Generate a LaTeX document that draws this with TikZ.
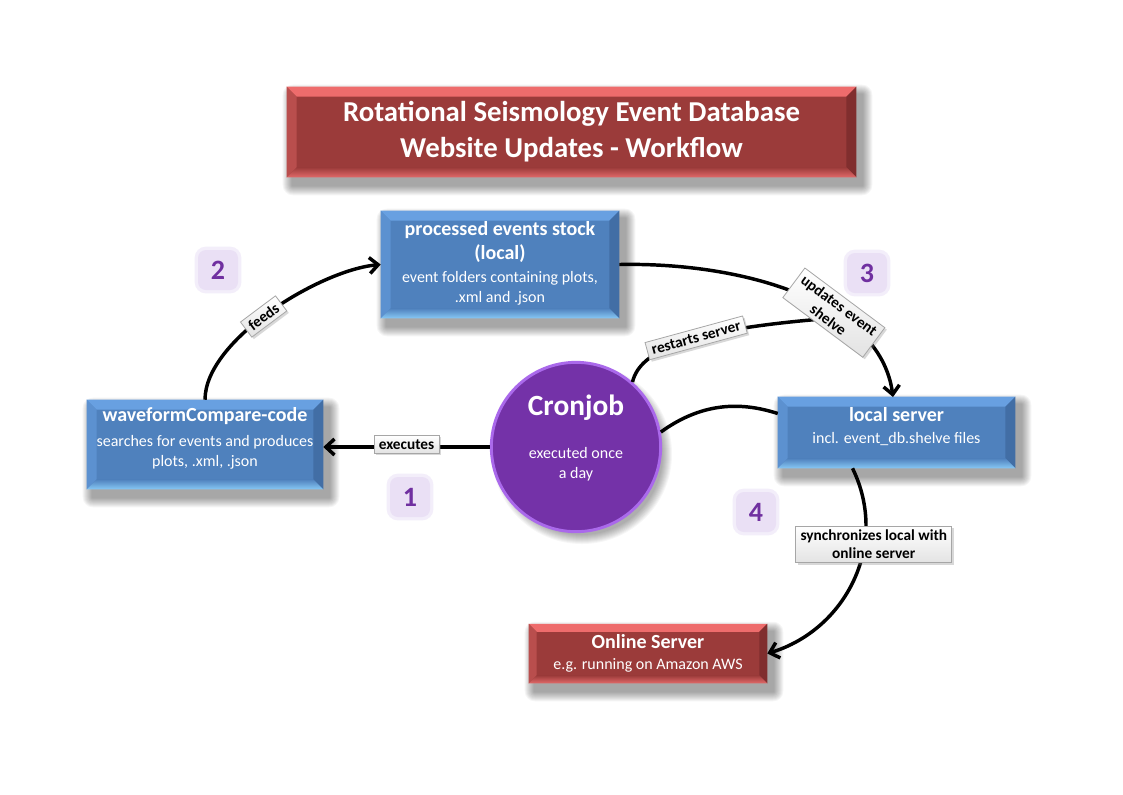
\documentclass[tikz,border=0pt]{standalone}
\usepackage{fontspec}
\setmainfont{Carlito}
\usetikzlibrary{arrows.meta,shadows,calc,fit,backgrounds}
\definecolor{blueB}{RGB}{79,129,189}
\definecolor{blueT}{RGB}{104,160,225}
\definecolor{blueLf}{RGB}{92,145,208}
\definecolor{blueR}{RGB}{66,110,165}
\definecolor{blueL}{RGB}{135,200,245}
\definecolor{redB}{RGB}{155,59,58}
\definecolor{redT}{RGB}{238,108,108}
\definecolor{redLf}{RGB}{185,78,77}
\definecolor{redR}{RGB}{128,46,46}
\definecolor{redL}{RGB}{225,105,105}
\definecolor{purp}{RGB}{116,50,168}
\definecolor{purpEdge}{RGB}{170,105,235}
\definecolor{numc}{RGB}{112,48,160}
\definecolor{badge}{RGB}{234,224,245}
\newcommand\bevelbox[6]{%
\path[#3] (#1.north west) -- (#1.north east) -- ($(#1.north east)+(-#2,#2)$) -- ($(#1.north west)+(#2,#2)$) -- cycle;
\path[#4] (#1.north west) -- ($(#1.north west)+(#2,#2)$) -- ($(#1.south west)+(#2,-#2)$) -- (#1.south west) -- cycle;
\path[#5] (#1.north east) -- ($(#1.north east)+(-#2,#2)$) -- ($(#1.south east)+(-#2,-#2)$) -- (#1.south east) -- cycle;
\path[#6] (#1.south west) -- ($(#1.south west)+(#2,-#2)$) -- ($(#1.south east)+(-#2,-#2)$) -- (#1.south east) -- cycle;
}
\newcommand\bluebev[1]{\bevelbox{#1}{10}{fill=blueT}{fill=blueLf}{fill=blueR}{top color=blueB,bottom color=blueL}}
\newcommand\redbev[1]{\bevelbox{#1}{10}{fill=redT}{fill=redLf}{fill=redR}{top color=redB,bottom color=redL}}
% soft shadow behind a named box
\newcommand\softshadow[1]{%
\begin{scope}[on background layer]
\foreach \i in {1,...,10}{
  \fill[black,opacity=0.04,rounded corners=\i*0.75pt]
    ($(#1.north west)+(6-\i,8-\i)$) rectangle ($(#1.south east)+(6+\i,8+\i)$);
}
\end{scope}}
\newcommand\ttlf{\bfseries\fontsize{15}{18}\selectfont}
\newcommand\subf{\fontsize{12}{15}\selectfont}
\tikzset{
  bluebox/.style={fill=blueB,inner sep=0pt},
  redbox/.style={fill=redB,inner sep=0pt},
  boxtext/.style={text=white,align=center,inner sep=0pt,font=\subf},
  conn/.style={line width=2.6pt,black},
  arr/.style={conn,-{Straight Barb[length=6.5pt,width=12pt,line width=2.6pt]}},
  lbl/.style={draw=gray!70,line width=0.6pt,top color=white,bottom color=gray!22,text=black,
    font=\bfseries\fontsize{11.5}{13.5}\selectfont,inner xsep=3.5pt,inner ysep=3pt,align=center,
    drop shadow={shadow xshift=1.5pt,shadow yshift=-1.5pt,opacity=0.3,fill=gray}},
  badgebox/.style={fill=badge,rounded corners=6pt,minimum size=30pt,inner sep=0pt,
    preaction={draw=badge!55!white,line width=5pt,rounded corners=7pt},
    text=numc,font=\bfseries\fontsize{21}{21}\selectfont}
}
\begin{document}
\begin{tikzpicture}[x=0.75pt,y=-0.75pt]
\begin{scope}[on background layer]
\fill[white] (0,0) rectangle (1123,794);
\end{scope}
\useasboundingbox (0,0) rectangle (1123,794);

% title
\node[redbox,fit={(287,87) (856,177)}] (title) {};
\softshadow{title}
\redbev{title}
\node[boxtext,font=\bfseries\fontsize{21.6}{27}\selectfont] (titlet) at (title.center) {Rotational Seismology Event Database\\Website Updates - Workflow};

% processed events stock
\node[bluebox,fit={(381,211) (619,318)}] (proc) {};
\softshadow{proc}
\bluebev{proc}
\node[boxtext] (proct) at ($(proc.center)+(0,-1)$) {{\ttlf processed events stock}\\[3pt]{\ttlf (local)}\\[2.5pt]event folders containing plots,\\.xml and .json};

% waveformCompare
\node[bluebox,fit={(87,400) (323,489)}] (wave) {};
\softshadow{wave}
\bluebev{wave}
\node[boxtext] (wavet) at ($(wave.center)+(0,-6)$) {{\ttlf waveformCompare-code}\\[4pt]searches for events and produces\\plots, .xml, .json};

% local server
\node[bluebox,fit={(778,397) (1015,468)}] (local) {};
\softshadow{local}
\bluebev{local}
\node[boxtext] (localt) at ($(local.center)+(0,-6)$) {{\ttlf local server}\\[1.5pt]incl. event\_db.shelve files};

% online server
\node[redbox,fit={(529,624) (767,683)}] (online) {};
\softshadow{online}
\bevelbox{online}{8}{fill=redT}{fill=redLf}{fill=redR}{top color=redB,bottom color=redL}
\node[boxtext] (onlinet) at ($(online.center)+(0,0)$) {{\ttlf Online Server}\\[1pt]e.g. running on Amazon AWS};

% cronjob
\begin{scope}[on background layer]
\foreach \i in {1,...,10}{
  \fill[black,opacity=0.035] (582,454) circle ({(80+\i)*0.75pt});
}
\end{scope}
\node[circle,fill=purp,draw=purpEdge,line width=2.2pt,minimum size=127pt,inner sep=0pt] (cron) at (576,447) {};
\node[text=white,font=\bfseries\fontsize{22}{22}\selectfont] (cront) at (576,408) {Cronjob};
\node[boxtext] (cronsub) at (576,464) {executed once\\a day};

% badges
\node[badgebox] (b2) at (218,270) {2};
\node[badgebox] (b3) at (867,273) {3};
\node[badgebox] (b1) at (410,497) {1};
\node[badgebox] (b4) at (756,512) {4};

% connectors
\coordinate (rsEnd) at (822,319);
\coordinate (lsTop) at (893,397);
\draw[arr] (cron.west) -- (wave.east |- cron.west) node[lbl,midway,yshift=2pt] (lexec) {executes};
\draw[arr] (wave.north) .. controls (205,340) and (320,270) .. (proc.west) node[lbl,sloped,pos=0.47] (lfeeds) {feeds};
\draw[conn] (cron.49) .. controls (640,350) and (690,330) .. (rsEnd) node[lbl,sloped,pos=0.58] (lrest) {restarts server};
\draw[arr] (proc.east) .. controls (740,262) and (880,300) .. (lsTop);
\path (proc.east) .. controls (740,262) and (880,300) .. (lsTop) node[lbl,sloped,pos=0.63,rotate=-4] (lupd) {updates event\\shelve};
\draw[conn] (cron.10) .. controls (705,400) and (745,403) .. ($(local.west)+(0,-19)$);
\draw[arr] ($(local.south)+(-44,0)$) .. controls (890,545) and (845,630) .. (online.east) node[lbl,pos=0.33,xshift=7pt] (lsync) {synchronizes local with\\online server};
\end{tikzpicture}
\end{document}
